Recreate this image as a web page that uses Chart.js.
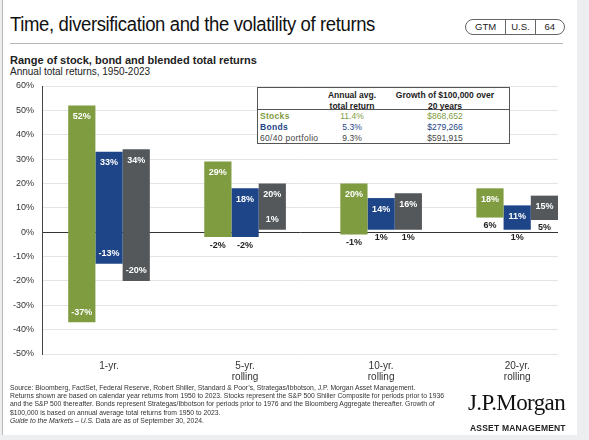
<!DOCTYPE html>
<html lang="en">
  <head>
    <meta charset="UTF-8" />
    <title>Time, diversification and the volatility of returns</title>
    <script src="https://cdn.jsdelivr.net/npm/chart.js@4.4.1/dist/chart.umd.min.js"></script>
    <style>
      body {
        margin: 0;
        width: 589px;
        height: 440px;
        background: #eceef0;
        font-family: "Liberation Sans", Arial, sans-serif;
        color: #222;
        position: relative;
        overflow: hidden;
      }
      #card {
        position: absolute;
        left: 2px;
        top: 0;
        width: 574px;
        height: 435px;
        background: #fff;
        border-left: 1px solid #b9b9b9;
      }
      .abs {
        position: absolute;
        white-space: nowrap;
      }
      #title {
        left: 10px;
        top: 13px;
        font-size: 20px;
        letter-spacing: -0.4px;
        color: #111;
        transform: scaleX(0.925);
        transform-origin: left center;
      }
      #rule {
        left: 10px;
        top: 43px;
        width: 553px;
        height: 0;
        border-top: 1px solid #b5b5b5;
      }
      #badge {
        left: 465px;
        top: 19px;
        width: 98px;
        height: 14px;
        border: 1px solid #666;
        border-radius: 8px;
        display: flex;
        font-size: 9.5px;
        line-height: 14px;
      }
      #badge span {
        text-align: center;
        border-left: 1px solid #666;
      }
      #badge span:first-child {
        border-left: none;
      }
      #sub1 {
        left: 10px;
        top: 54px;
        font-size: 11px;
        font-weight: bold;
      }
      #sub2 {
        left: 10px;
        top: 66px;
        font-size: 10px;
      }
      #chart {
        position: absolute;
        left: 0;
        top: 0;
      }
      #tbl {
        left: 257px;
        top: 87px;
        width: 251px;
        height: 55px;
        border: 1px solid #555;
        background: #fff;
        font-size: 8.5px;
      }
      #tbl div {
        position: absolute;
        white-space: nowrap;
      }
      #foot {
        left: 10px;
        top: 384px;
        font-size: 6.8px;
        line-height: 8.2px;
        color: #333;
      }
      #logo {
        left: 468px;
        top: 390px;
        font-family: "Liberation Serif", "DejaVu Serif", serif;
        font-size: 23px;
        letter-spacing: -0.6px;
        color: #111;
      }
      #am {
        left: 470px;
        top: 423px;
        font-size: 8.5px;
        font-weight: bold;
        letter-spacing: 0.2px;
        color: #222;
      }
    </style>
  </head>
  <body>
    <div id="card"></div>
    <div class="abs" id="title">Time, diversification and the volatility of returns</div>
    <div class="abs" id="badge">
      <span style="width: 40px">GTM</span><span style="width: 29px">U.S.</span
      ><span style="width: 29px">64</span>
    </div>
    <div class="abs" id="rule"></div>
    <div class="abs" id="sub1">Range of stock, bond and blended total returns</div>
    <div class="abs" id="sub2">Annual total returns, 1950-2023</div>

    <canvas id="chart" width="589" height="440"></canvas>

    <div class="abs" id="tbl"></div>

    <div class="abs" id="foot">
      Source: Bloomberg, FactSet, Federal Reserve, Robert Shiller, Standard &amp; Poor’s, Strategas/Ibbotson, J.P. Morgan Asset Management.<br />
      Returns shown are based on calendar year returns from 1950 to 2023. Stocks represent the S&amp;P 500 Shiller Composite for periods prior to 1936<br />
      and the S&amp;P 500 thereafter. Bonds represent Strategas/Ibbotson for periods prior to 1976 and the Bloomberg Aggregate thereafter. Growth of<br />
      $100,000 is based on annual average total returns from 1950 to 2023.<br />
      <i>Guide to the Markets – U.S.</i> Data are as of September 30, 2024.
    </div>
    <div class="abs" id="logo">J.P.Morgan</div>
    <div class="abs" id="am">ASSET MANAGEMENT</div>
  </body>
  <script>
    // range of returns per holding period, [worst, best] in %
    const periods = [["1-yr.", ""], ["5-yr.", "rolling"], ["10-yr.", "rolling"], ["20-yr.", "rolling"]];
    const stocksRange = [[-37, 52], [-2, 29], [-1, 20], [6, 18]];
    const bondsRange = [[-13, 33], [-2, 18], [1, 14], [1, 11]];
    const blendRange = [[-20, 34], [1, 20], [1, 16], [5, 15]];

    // which "worst" labels sit inside the bar (others go below it)
    const lowInside = [
      [true, false, false, false],
      [true, false, false, false],
      [true, true, false, false],
    ];

    // summary table
    const tableHeads = [["Annual avg.", "total return"], ["Growth of $100,000 over", "20 years"]];
    const tableRows = ["Stocks", "Bonds", "60/40 portfolio"];
    const avgReturn = ["11.4%", "5.3%", "9.3%"];
    const growth = ["$868,652", "$279,266", "$591,915"];

    const yTicks = [60, 50, 40, 30, 20, 10, 0, -10, -20, -30, -40, -50];

    const colors = {
      stocks: "#7f9c40",
      bonds: "#1d4587",
      blend: "#54585b",
    };

    // build the table
    const tbl = document.getElementById("tbl");
    const rowColors = [colors.stocks, colors.bonds, "#444"];
    tableHeads.forEach((h, i) => {
      h.forEach((line, j) => {
        const d = document.createElement("div");
        d.textContent = line;
        d.style.fontWeight = "bold";
        d.style.top = 2 + j * 11 + "px";
        d.style.left = (i === 0 ? 94 : 187) + "px";
        d.style.transform = "translateX(-50%)";
        tbl.appendChild(d);
      });
    });
    const hr = document.createElement("div");
    hr.style.cssText = "left:0;right:0;top:21px;border-top:1px solid #555";
    tbl.appendChild(hr);
    tableRows.forEach((r, i) => {
      const cells = [r, avgReturn[i], growth[i]];
      cells.forEach((c, j) => {
        const d = document.createElement("div");
        d.textContent = c;
        d.style.color = rowColors[i];
        d.style.top = 23 + i * 11 + "px";
        if (j === 0) {
          d.style.left = "2px";
          if (i < 2) d.style.fontWeight = "bold";
          d.style.letterSpacing = "0.3px";
        } else {
          d.style.left = (j === 1 ? 94 : 187) + "px";
          d.style.transform = "translateX(-50%)";
        }
        tbl.appendChild(d);
      });
    });

    const toPoints = (arr) => arr.map((v, i) => ({ x: i, y: v }));

    const barLabels = {
      id: "barLabels",
      afterDatasetsDraw(chart) {
        const ctx = chart.ctx;
        ctx.save();
        ctx.font = "bold 9px 'Liberation Sans', Arial, sans-serif";
        ctx.textAlign = "center";
        ctx.textBaseline = "middle";
        chart.data.datasets.forEach((ds, di) => {
          const meta = chart.getDatasetMeta(di);
          meta.data.forEach((bar, i) => {
            const [lo, hi] = ds.data[i].y;
            const top = Math.min(bar.y, bar.base);
            const bottom = Math.max(bar.y, bar.base);
            ctx.fillStyle = "#fff";
            ctx.fillText(hi + "%", bar.x, top + 11);
            if (lowInside[di][i]) {
              ctx.fillStyle = "#fff";
              ctx.fillText(lo + "%", bar.x, bottom - 10);
            } else {
              ctx.fillStyle = "#222";
              ctx.fillText(lo + "%", bar.x, bottom + 8);
            }
          });
        });
        ctx.restore();
      },
    };

    new Chart(document.getElementById("chart"), {
      type: "bar",
      data: {
        datasets: [
          { label: "Stocks", data: toPoints(stocksRange), backgroundColor: colors.stocks },
          { label: "Bonds", data: toPoints(bondsRange), backgroundColor: colors.bonds },
          { label: "60/40 portfolio", data: toPoints(blendRange), backgroundColor: colors.blend },
        ],
      },
      options: {
        responsive: false,
        animation: false,
        events: [],
        categoryPercentage: 0.6,
        barPercentage: 1,
        layout: {
          padding: { left: 0, right: 31, top: 86, bottom: 0 },
        },
        plugins: {
          legend: { display: false },
          tooltip: { enabled: false },
        },
        scales: {
          x: {
            type: "linear",
            offset: false,
            min: -0.4926,
            max: 3.3,
            grid: { display: false },
            border: { display: false },
            afterFit: (scale) => {
              scale.height = 86;
            },
            ticks: {
              stepSize: 1,
              includeBounds: false,
              autoSkip: false,
              maxRotation: 0,
              padding: -2,
              color: "#333",
              font: { size: 10, family: "'Liberation Sans', Arial, sans-serif", lineHeight: 1.15 },
              callback: (v) => (Number.isInteger(v) && periods[v] ? periods[v] : ""),
            },
          },
          y: {
            min: yTicks[yTicks.length - 1],
            max: yTicks[0],
            afterFit: (scale) => {
              scale.width = 42;
            },
            afterBuildTicks: (scale) => {
              scale.ticks = yTicks.map((v) => ({ value: v }));
            },
            grid: {
              drawTicks: false,
              color: (c) => (c.tick && c.tick.value === 0 ? "#333" : "#e4e4e4"),
            },
            border: { display: true, color: "#444" },
            ticks: {
              padding: 8,
              color: "#333",
              font: { size: 9, family: "'Liberation Sans', Arial, sans-serif" },
              callback: (v) => v + "%",
            },
          },
        },
      },
      plugins: [barLabels],
    });
  </script>
</html>
